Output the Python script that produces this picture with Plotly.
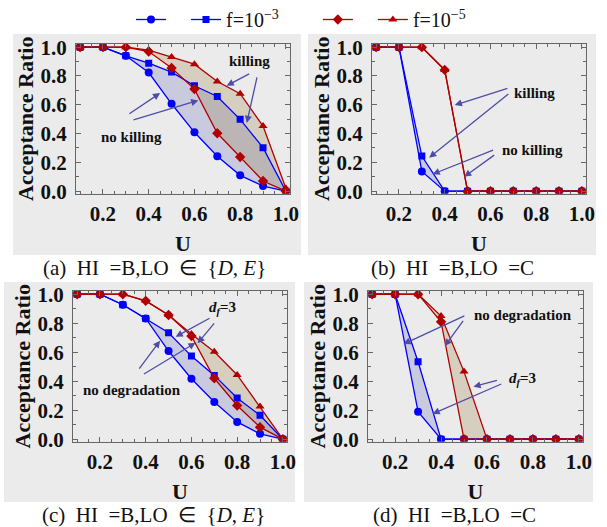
import plotly.graph_objects as go

# ---------------- data ----------------
U = [0.1, 0.2, 0.3, 0.4, 0.5, 0.6, 0.7, 0.8, 0.9, 1.0]

a_circle   = [1.0, 1.0, 0.940, 0.824, 0.607, 0.409, 0.243, 0.110, 0.036, 0.0]
a_square   = [1.0, 1.0, 0.940, 0.889, 0.827, 0.732, 0.658, 0.499, 0.302, 0.0]
a_diamond  = [1.0, 1.0, 1.000, 0.970, 0.855, 0.709, 0.402, 0.237, 0.071, 0.0]
a_triangle = [1.0, 1.0, 1.000, 0.980, 0.932, 0.882, 0.762, 0.677, 0.452, 0.02]

b_circle   = [1.0, 1.0, 0.137, 0.0, 0.0, 0.0, 0.0, 0.0, 0.0, 0.0]
b_square   = [1.0, 1.0, 0.244, 0.0, 0.0, 0.0, 0.0, 0.0, 0.0, 0.0]
b_diamond  = [1.0, 1.0, 1.000, 0.842, 0.0, 0.0, 0.0, 0.0, 0.0, 0.0]
b_triangle = [1.0, 1.0, 1.000, 0.842, 0.0, 0.0, 0.0, 0.0, 0.0, 0.0]

c_circle   = [1.0, 1.0, 0.927, 0.833, 0.608, 0.417, 0.257, 0.119, 0.037, 0.0]
c_square   = [1.0, 1.0, 0.927, 0.833, 0.734, 0.573, 0.440, 0.284, 0.165, 0.0]
c_diamond  = [1.0, 1.0, 1.000, 0.954, 0.856, 0.711, 0.420, 0.232, 0.083, 0.0]
c_triangle = [1.0, 1.0, 1.000, 0.954, 0.856, 0.725, 0.603, 0.443, 0.225, 0.0]

d_circle   = [1.0, 1.0, 0.190, 0.0, 0.0, 0.0, 0.0, 0.0, 0.0, 0.0]
d_square   = [1.0, 1.0, 0.534, 0.0, 0.0, 0.0, 0.0, 0.0, 0.0, 0.0]
d_diamond  = [1.0, 1.0, 1.000, 0.810, 0.0, 0.0, 0.0, 0.0, 0.0, 0.0]
d_triangle = [1.0, 1.0, 1.000, 0.849, 0.466, 0.0, 0.0, 0.0, 0.0, 0.0]

legend_names = ["\u00a0\u00a0", "f=10<sup>\u22123</sup>" + "\u00a0" * 6 + "\u2009",
                "\u00a0\u00a0", "f=10<sup>\u22125</sup>"]

SP = "\u2002"
captions = ["(a)" + SP + "HI" + SP + "=B,LO" + SP + "\u2208" + SP + "{<i>D</i>, <i>E</i>}",
            "(b)" + SP + "HI" + SP + "=B,LO" + SP + "=C",
            "(c)" + SP + "HI" + SP + "=B,LO" + SP + "\u2208" + SP + "{<i>D</i>, <i>E</i>}",
            "(d)" + SP + "HI" + SP + "=B,LO" + SP + "=C"]

# ---------------- style ----------------
W, H = 607, 527
BG = "#ebebeb"
BLUE = "#0000ff"
RED = "#b00000"
ARROW = "#4d4da8"
FRAME = "#666666"
SERIF = "Liberation Serif"
BLUE_FILL = "rgba(70,70,170,0.20)"
TAN_FILL = "rgba(140,110,40,0.22)"

# plot boxes in pixels: left, right, top, bottom
boxes = [(76, 290, 44, 193.5), (372, 586, 44, 193.5),
         (73, 287, 291, 441.5), (368, 583, 291, 441.5)]
grays = [(13, 301, 34, 255), (308, 596, 34, 255),
         (4, 295, 282, 502), (304, 593, 282, 502)]
cap_pos = [(154, 268), (452, 268), (153, 515), (455, 515)]

def px(x):
    return x / W

def py(y):
    return 1 - y / H

fig = go.Figure()

series = [
    (a_circle, a_square, a_diamond, a_triangle),
    (b_circle, b_square, b_diamond, b_triangle),
    (c_circle, c_square, c_diamond, c_triangle),
    (d_circle, d_square, d_diamond, d_triangle),
]
styles = [
    (BLUE, "circle", 8),
    (BLUE, "square", 7),
    (RED, "diamond", 8),
    (RED, "triangle-up", 8),
]
fills = [BLUE_FILL, TAN_FILL]

for i, group in enumerate(series):
    sfx = "" if i == 0 else str(i + 1)
    ax = dict(xaxis="x" + sfx, yaxis="y" + sfx)
    # filled bands (between circle/square and diamond/triangle series)
    for k in range(2):
        lower, upper = group[2 * k], group[2 * k + 1]
        fig.add_trace(go.Scatter(x=U, y=lower, mode="lines", line=dict(width=0),
                                 showlegend=False, hoverinfo="skip", **ax))
        fig.add_trace(go.Scatter(x=U, y=upper, mode="lines", line=dict(width=0),
                                 fill="tonexty", fillcolor=fills[k],
                                 showlegend=False, hoverinfo="skip", **ax))
    for j, (vals, (col, sym, size)) in enumerate(zip(group, styles)):
        fig.add_trace(go.Scatter(
            x=U, y=vals, mode="lines+markers",
            line=dict(color=col, width=1.3),
            marker=dict(symbol=sym, size=size, color=col),
            name=legend_names[j], showlegend=(i == 0), **ax))

tickfont = dict(family=SERIF, size=21, color="#111", weight="bold")
titlefont = dict(family=SERIF, size=22, color="#111", weight="bold")

layout = dict(width=W, height=H,
              margin=dict(l=0, r=0, t=0, b=0, autoexpand=False),
              paper_bgcolor="white", plot_bgcolor="rgba(0,0,0,0)")

for i, (l, r, t, b) in enumerate(boxes):
    sfx = "" if i == 0 else str(i + 1)
    layout["xaxis" + sfx] = dict(
        domain=[px(l), px(r)], range=[0.082, 1.018], anchor="y" + sfx,
        showline=True, linecolor=FRAME, linewidth=1, mirror="ticks",
        ticks="inside", ticklen=5, tickcolor=FRAME, tick0=0, dtick=0.2,
        tickformat=".1f", tickfont=tickfont, ticklabelstandoff=1,
        minor=dict(ticks="inside", ticklen=3, tickcolor=FRAME, dtick=0.05),
        showgrid=False, zeroline=False,
        title=dict(text="U", font=titlefont, standoff=10))
    layout["yaxis" + sfx] = dict(
        domain=[py(b), py(t)], range=[-0.016, 1.022], anchor="x" + sfx,
        showline=True, linecolor=FRAME, linewidth=1, mirror="ticks",
        ticks="inside", ticklen=5, tickcolor=FRAME, tick0=0, dtick=0.2,
        tickformat=".1f", tickfont=tickfont, ticklabelstandoff=4,
        minor=dict(ticks="inside", ticklen=3, tickcolor=FRAME, dtick=0.1),
        showgrid=False, zeroline=False,
        title=dict(text="Acceptance Ratio", font=titlefont, standoff=0))

layout["shapes"] = [dict(type="rect", xref="paper", yref="paper",
                         x0=px(l), x1=px(r), y0=py(b), y1=py(t),
                         fillcolor=BG, line=dict(width=0), layer="below")
                    for (l, r, t, b) in grays]

ann = []
for (cx, cy), txt in zip(cap_pos, captions):
    ann.append(dict(x=px(cx), y=py(cy), xref="paper", yref="paper", text=txt,
                    xanchor="center", yanchor="middle", showarrow=False,
                    font=dict(family=SERIF, size=21, color="#111")))

labfont = dict(family=SERIF, size=15, color="#111", weight="bold")
df_text = "<i>d</i><sub><i>f</i></sub>=3"
# (panel index, text, x, y)
labels = [
    (0, "killing", 0.839, 0.905), (0, "no killing", 0.324, 0.379),
    (1, "killing", 0.792, 0.684), (1, "no killing", 0.782, 0.285),
    (2, df_text, 0.736, 0.908), (2, "no degradation", 0.340, 0.339),
    (3, "no degradation", 0.756, 0.855), (3, df_text, 0.756, 0.413),
]
# (panel index, tail x, tail y, head x, head y)
arrows = [
    (0, 0.846, 0.820, 0.741, 0.732), (0, 0.875, 0.801, 0.829, 0.474),
    (0, 0.309, 0.531, 0.450, 0.681), (0, 0.327, 0.492, 0.617, 0.630),
    (1, 0.681, 0.717, 0.444, 0.598), (1, 0.685, 0.684, 0.332, 0.232),
    (1, 0.618, 0.290, 0.347, 0.118), (1, 0.623, 0.258, 0.485, 0.100),
    (2, 0.686, 0.840, 0.531, 0.706), (2, 0.705, 0.809, 0.627, 0.661),
    (2, 0.367, 0.477, 0.463, 0.679), (2, 0.386, 0.443, 0.618, 0.665),
    (3, 0.508, 0.855, 0.236, 0.656), (3, 0.501, 0.826, 0.416, 0.642),
    (3, 0.650, 0.408, 0.541, 0.362), (3, 0.669, 0.385, 0.363, 0.174),
]
for (i, txt, x, y) in labels:
    sfx = "" if i == 0 else str(i + 1)
    ann.append(dict(x=x, y=y, xref="x" + sfx, yref="y" + sfx, text=txt,
                    showarrow=False, font=labfont))
for (i, tx, ty, hx, hy) in arrows:
    sfx = "" if i == 0 else str(i + 1)
    ann.append(dict(x=hx, y=hy, ax=tx, ay=ty, xref="x" + sfx, yref="y" + sfx,
                    axref="x" + sfx, ayref="y" + sfx, text="", showarrow=True,
                    arrowhead=2, arrowsize=1.1, arrowwidth=1.3,
                    arrowcolor=ARROW, standoff=0, startstandoff=0))
layout["annotations"] = ann

layout["legend"] = dict(orientation="h", traceorder="normal", x=px(131),
                        xanchor="left", y=1.0, yanchor="top",
                        font=dict(family=SERIF, size=20, color="#111"),
                        bgcolor="rgba(0,0,0,0)")

fig.update_layout(**layout)
fig.write_html("out.html", config={"displayModeBar": False},
               post_script="document.body.style.margin='0';"
                           "document.body.style.padding='0';")
